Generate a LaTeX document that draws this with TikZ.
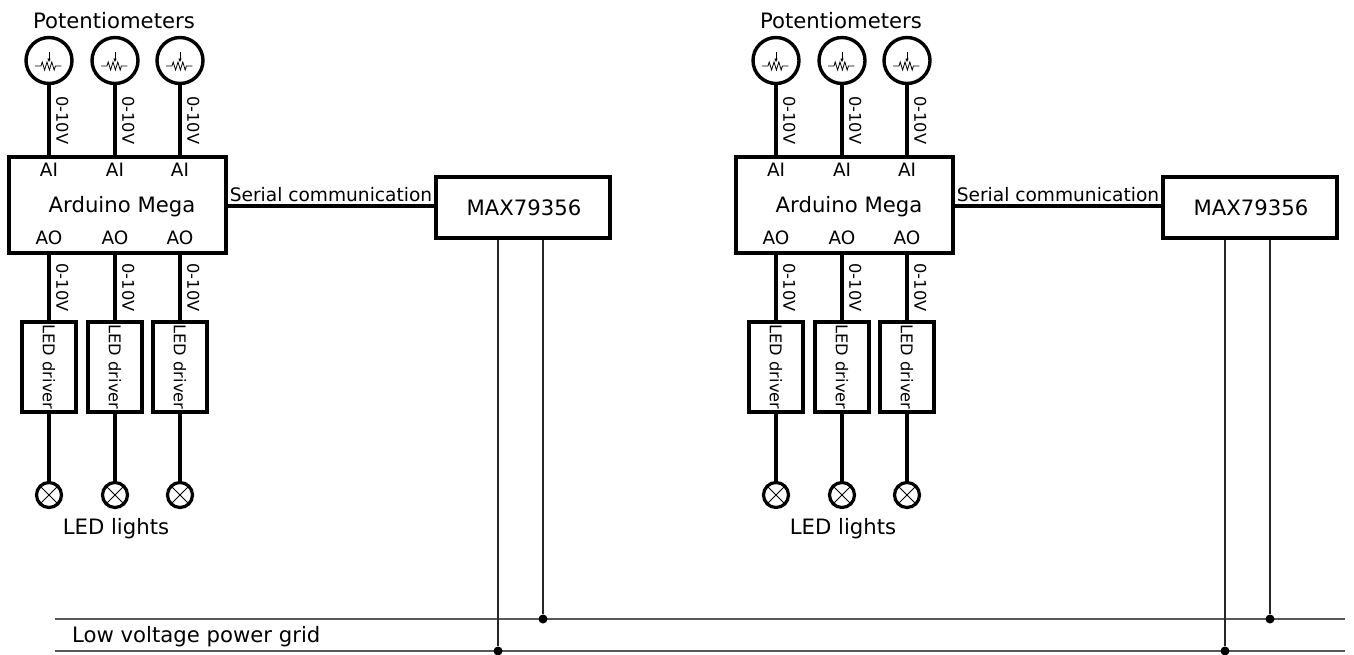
\documentclass[tikz,border=0pt]{standalone}
\usepackage{fontspec}
\setmainfont{DejaVu Sans}
\usetikzlibrary{arrows.meta,positioning}

\begin{document}
\begin{tikzpicture}[
        x=1pt, y=-1pt,
        txt/.style={font=\fontsize{21.2}{24}\selectfont, inner sep=0pt},
        serialtxt/.style={font=\fontsize{18.6}{22}\selectfont, inner sep=0pt},
        porttxt/.style={font=\fontsize{18.4}{22}\selectfont, inner sep=0pt},
        smalltxt/.style={font=\fontsize{16.2}{18}\selectfont, inner sep=0pt},
        box/.style={draw, line width=3.6pt, minimum width=217pt, minimum height=96pt, inner sep=0pt},
        maxbox/.style={draw, line width=3.6pt, minimum width=174pt, minimum height=61pt, inner sep=0pt},
        driverbox/.style={draw, line width=3.2pt, rotate=-90, minimum width=90pt, minimum height=54pt, inner sep=0pt, smalltxt},
        pot/.style={draw, circle, line width=3.4pt, minimum size=46pt, inner sep=0pt},
        lamp/.style={draw, circle, line width=3.2pt, minimum size=25pt, inner sep=0pt},
        wire/.style={line width=3.2pt},
        gridwire/.style={line width=1.2pt, black!65},
        thinwire/.style={line width=1.1pt, black!85},
        dot/.style={fill, circle, minimum size=9pt, inner sep=0pt},
        vlabel/.style={smalltxt, rotate=-90, anchor=south, yshift=5.5pt}
      ]
      \useasboundingbox (0,0) rectangle (1354,654);
      % power grid
      \coordinate (gridtopL) at (55,619);
      \coordinate (gridtopR) at (1345,619);
      \coordinate (gridbotL) at (55,651);
      \coordinate (gridbotR) at (1345,651);
      \draw[gridwire] (gridtopL) -- (gridtopR);
      \draw[gridwire] (gridbotL) -- (gridbotR);
      \node[txt, anchor=west] (grid) at (72,636.5) {Low voltage power grid};
      % the two identical sections
      \foreach \dx/\g in {0/a,727/b} {
        \begin{scope}[shift={(\dx,0)}]
          \node[txt] (pots\g) at (114,21) {Potentiometers};
          \node[box] (mega\g) at (117.5,205) {};
          \node[txt] (name\g) at (122,206.5) {Arduino Mega};
          \node[maxbox] (max\g) at (523,207.5) {};
          \node[txt] (maxname\g) at (524,207.5) {MAX79356};
          \node[txt] (leds\g) at (116,528.5) {LED lights};
          \draw[wire] (mega\g.east |- 0,206) -- node[serialtxt, above=3pt] (serial\g) {Serial communication} (max\g.west |- 0,206);
          \foreach \px/\n in {49/1,115/2,180/3} {
            \node[pot] (pot\g\n) at (\px,60.5) {};
            \draw[line width=0.8pt] ([xshift=-14pt,yshift=-5.5pt]pot\g\n.center) -- ++(6,0) -- ++(1.2,-4) -- ++(2.4,8) -- ++(2.4,-8) -- ++(2.4,8) -- ++(2.4,-8) -- ++(2.4,8) -- ++(1.2,-4) -- ++(6,0);
            \draw[-{Latex[length=4pt,width=3.5pt]}, line width=0.8pt] ([yshift=8.5pt]pot\g\n.center) -- ([yshift=-2pt]pot\g\n.center);
            \node[porttxt] (ai\g\n) at (\px,170) {AI};
            \node[porttxt] (ao\g\n) at (\px,238) {AO};
            \node[driverbox] (drv\g\n) at (\px,367) {LED driver};
            \node[lamp] (lamp\g\n) at (\px,495) {};
            \draw[line width=1pt] (lamp\g\n.45) -- (lamp\g\n.225);
            \draw[line width=1pt] (lamp\g\n.135) -- (lamp\g\n.315);
            \draw[wire] (pot\g\n) -- node[vlabel] (in\g\n) {0-10V} (pot\g\n |- mega\g.north);
            \draw[wire] (pot\g\n |- mega\g.south) -- node[vlabel] (out\g\n) {0-10V} (drv\g\n.west);
            \draw[wire] (drv\g\n.east) -- (lamp\g\n);
          }
          \node[dot] (dottop\g) at (543,619) {};
          \node[dot] (dotbot\g) at (498,651) {};
          \draw[thinwire] (max\g.south -| dottop\g) -- (dottop\g);
          \draw[thinwire] (max\g.south -| dotbot\g) -- (dotbot\g);
        \end{scope}
      }
    \end{tikzpicture}
\end{document}
